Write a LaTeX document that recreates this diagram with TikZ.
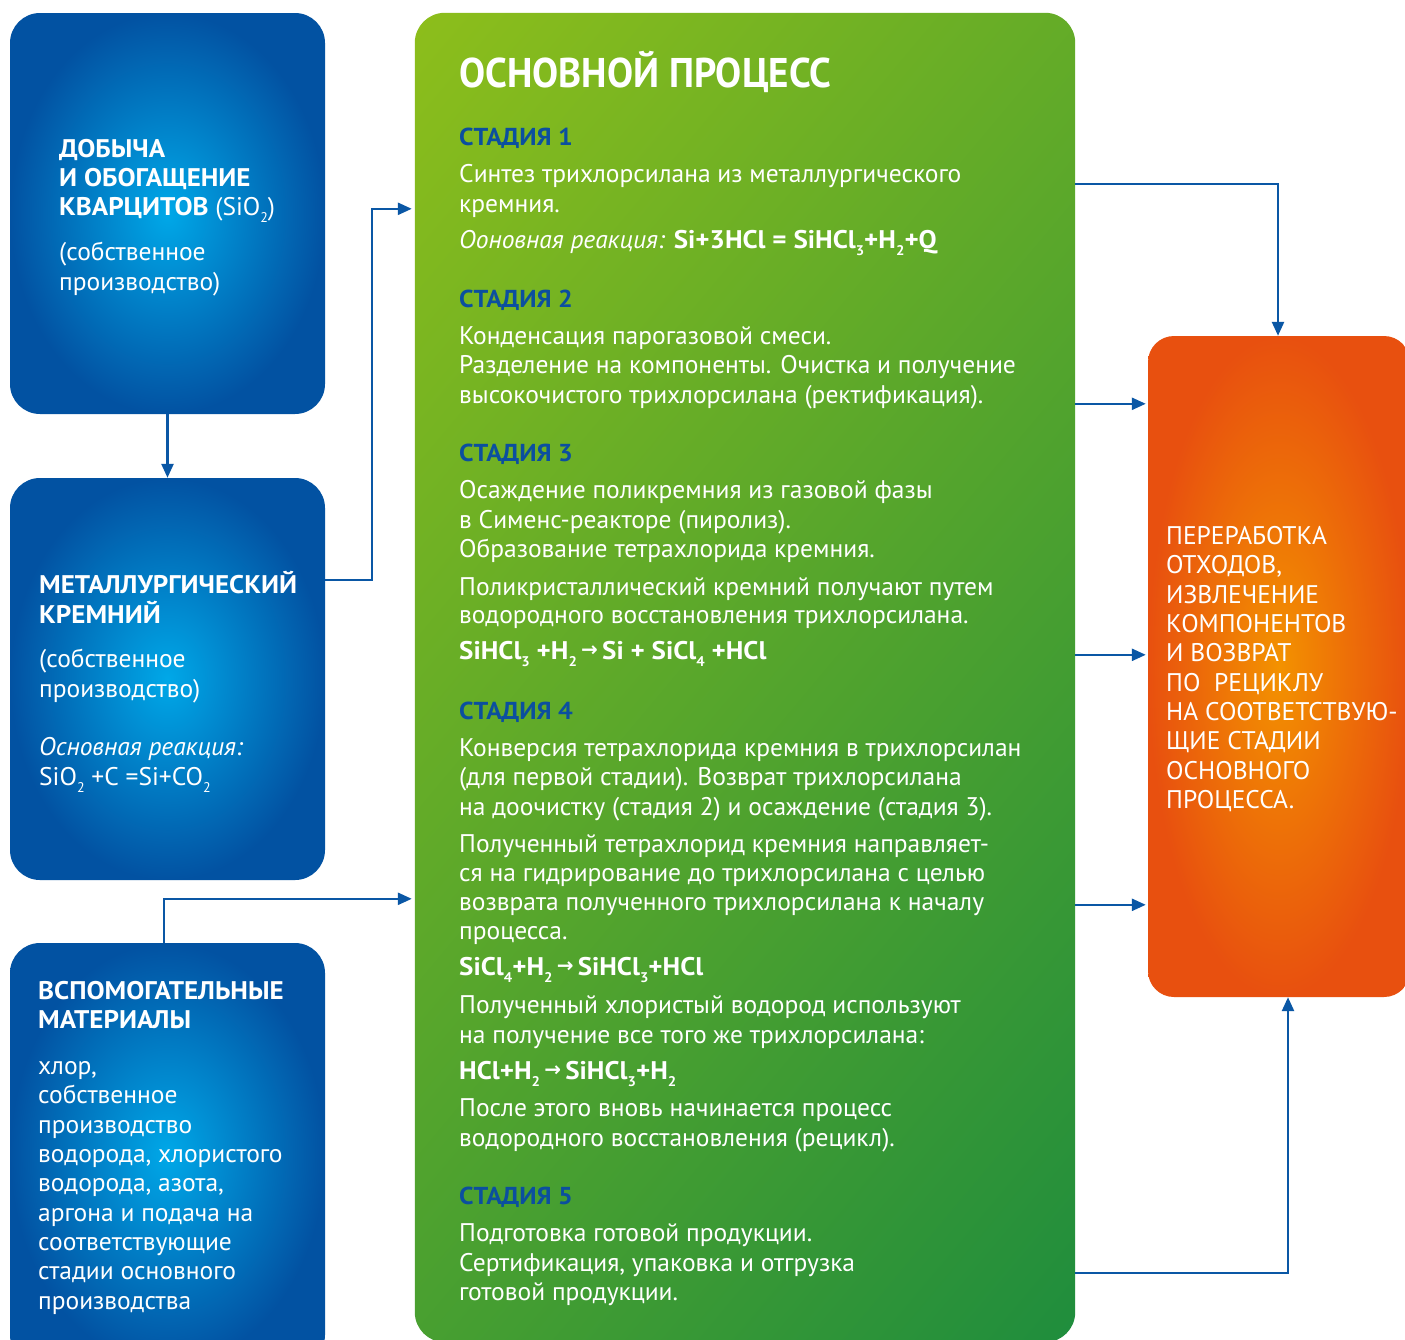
\documentclass[tikz,border=0pt]{standalone}
\usepackage{fontspec}
\setmainfont{PT Sans}[BoldFeatures={FakeStretch=1.06}]
\newfontfamily\titlefont{PT Sans}[FakeStretch=0.94]
\newfontfamily\arrfont{DejaVu Sans}
\usetikzlibrary{arrows.meta}
\definecolor{bluein}{HTML}{00A8E8}
\definecolor{blueout}{HTML}{0252A2}
\definecolor{orin}{HTML}{F39200}
\definecolor{orout}{HTML}{E8500F}
\definecolor{gtl}{HTML}{8DBE1B}
\definecolor{gmid}{HTML}{4FA033}
\definecolor{gbr}{HTML}{1F8D3D}
\definecolor{linecol}{HTML}{0A57A5}
\definecolor{stagecol}{HTML}{0B4F9F}
\newcommand\sbs[1]{\raisebox{-0.3em}{\fontsize{14}{14}\selectfont #1}}
\newcommand\arr{\,{\arrfont\fontsize{20}{20}\selectfont\raisebox{0.12em}{→}}\,}
\tikzset{
  bluebox/.style={shade, rounded corners=30pt, inner color=bluein, outer color=blueout, minimum width=315pt, inner sep=0pt},
  wt/.style={text=white, anchor=base west, inner sep=0pt, font=\fontsize{25.5}{29}\selectfont},
  wtb/.style={wt, font=\fontsize{25.5}{29}\selectfont\bfseries},
  gt/.style={wt},
  gtb/.style={wtb},
  stage/.style={anchor=base west, inner sep=0pt, text=stagecol, font=\fontsize{24.5}{29}\selectfont\bfseries},
  conn/.style={draw=linecol, line width=2.5pt, -{Triangle[length=14pt,width=12pt]}},
}
\begin{document}
\begin{tikzpicture}[x=1pt,y=-1pt]
\useasboundingbox (0,0) rectangle (1405,1339);
\fill[white] (0,0) rectangle (1405,1339);
% boxes
\node[bluebox, minimum height=401pt] (boxA) at (167.5,213.5) {};
\node[bluebox, minimum height=402pt] (boxB) at (167.5,679) {};
\node[bluebox, minimum height=422pt] (boxC) at (167.5,1154) {};
\node[minimum width=660pt, minimum height=1329pt, inner sep=0pt] (green) at (745,677.5) {};
\begin{scope}
  \clip[rounded corners=30pt] (green.north west) rectangle (green.south east);
  \begin{scope}[transform canvas={rotate around={-40:(green.center)}}]
    \shade[left color=gtl, middle color=gmid, right color=gbr] ([xshift=-680pt, yshift=-760pt]green.center) rectangle ([xshift=680pt, yshift=760pt]green.center);
  \end{scope}
\end{scope}
\node[shade, rounded corners=26pt, inner color=orin, outer color=orout, minimum width=262pt, minimum height=661pt, inner sep=0pt] (orange) at (1279,666.5) {};
% connectors
\draw[conn] (boxA.south) -- (boxB.north);
\draw[conn, shorten >=3pt] ([yshift=-102pt]boxB.north east) -- ++(47,0) |- ([yshift=-196pt]green.north west);
\draw[conn, shorten >=3pt] ([xshift=-3.5pt]boxC.north) |- ([yshift=-886pt]green.north west);
\draw[conn] ([yshift=-171pt]green.north east) -| ([xshift=-1pt]orange.north);
\draw[conn, shorten >=2pt] ([yshift=-391pt]green.north east) -- ([yshift=-68pt]orange.north west);
\draw[conn, shorten >=2pt] ([yshift=-642pt]green.north east) -- ([yshift=-319pt]orange.north west);
\draw[conn, shorten >=2pt] ([yshift=-892pt]green.north east) -- ([yshift=-569pt]orange.north west);
\draw[conn] ([yshift=-1260pt]green.north east) -| ([xshift=9pt]orange.south);
% box A text
\node[wtb] (a1) at (59,157) {ДОБЫЧА};
\node[wtb] (a2) at (59,186) {И ОБОГАЩЕНИЕ};
\node[wt] (a3) at (59,215) {\textbf{КВАРЦИТОВ} (SiO\sbs{2})};
\node[wt] (a4) at (59,260) {(собственное};
\node[wt] (a5) at (59,290) {производство)};
% box B text
\node[wtb] (b1) at (39,593) {МЕТАЛЛУРГИЧЕСКИЙ};
\node[wtb] (b2) at (39,623) {КРЕМНИЙ};
\node[wt] (b3) at (39,667) {(собственное};
\node[wt] (b4) at (39,697) {производство)};
\node[wt] (b5) at (39,755) {\itshape Основная реакция:};
\node[wt] (b6) at (39,785) {SiO\sbs{2} +C =Si+CO\sbs{2}};
% box C text
\node[wtb] (c1) at (38,999) {ВСПОМОГАТЕЛЬНЫЕ};
\node[wtb] (c2) at (38,1028) {МАТЕРИАЛЫ};
\node[wt] (c3) at (38,1074) {хлор,};
\node[wt] (c4) at (38,1103) {собственное};
\node[wt] (c5) at (38,1133) {производство};
\node[wt] (c6) at (38,1162) {водорода, хлористого};
\node[wt] (c7) at (38,1191) {водорода, азота,};
\node[wt] (c8) at (38,1221) {аргона и подача на};
\node[wt] (c9) at (38,1250) {соответствующие};
\node[wt] (c10) at (38,1279) {стадии основного};
\node[wt] (c11) at (38,1309) {производства};
% orange text
\node[wt] (o1) at (1166,544) {ПЕРЕРАБОТКА};
\node[wt] (o2) at (1166,573) {ОТХОДОВ,};
\node[wt] (o3) at (1166,603) {ИЗВЛЕЧЕНИЕ};
\node[wt] (o4) at (1166,632) {КОМПОНЕНТОВ};
\node[wt] (o5) at (1166,661) {И ВОЗВРАТ};
\node[wt] (o6) at (1166,691) {ПО\ \ РЕЦИКЛУ};
\node[wt] (o7) at (1166,720) {НА СООТВЕТСТВУЮ-};
\node[wt] (o8) at (1166,749) {ЩИЕ СТАДИИ};
\node[wt] (o9) at (1166,779) {ОСНОВНОГО};
\node[wt] (o10) at (1166,808) {ПРОЦЕССА.};
% green text
\node[wt, font=\fontsize{41.5}{44}\selectfont\titlefont\bfseries] (title) at (459,87) {ОСНОВНОЙ ПРОЦЕСС};
\node[stage] (s1) at (459,145) {СТАДИЯ 1};
\node[gt] (g1) at (459,182) {Синтез трихлорсилана из металлургического};
\node[gt] (g2) at (459,212) {кремния.};
\node[gt] (g3) at (459,248) {\itshape Ооновная реакция: \upshape\bfseries Si+3HCl = SiHCl\sbs{3}+H\sbs{2}+Q};
\node[stage] (s2) at (459,307) {СТАДИЯ 2};
\node[gt] (g4) at (459,344) {Конденсация парогазовой смеси.};
\node[gt] (g5) at (459,373) {Разделение на компоненты. Очистка и получение};
\node[gt] (g6) at (459,403) {высокочистого трихлорсилана (ректификация).};
\node[stage] (s3) at (459,461) {СТАДИЯ 3};
\node[gt] (g7) at (459,498) {Осаждение поликремния из газовой фазы};
\node[gt] (g8) at (459,528) {в Сименс-реакторе (пиролиз).};
\node[gt] (g9) at (459,557) {Образование тетрахлорида кремния.};
\node[gt] (g10) at (459,595) {Поликристаллический кремний получают путем};
\node[gt] (g11) at (459,623) {водородного восстановления трихлорсилана.};
\node[gtb] (f1) at (459,659) {SiHCl\sbs{3} +H\sbs{2}\arr Si + SiCl\sbs{4} +HCl};
\node[stage] (s4) at (459,719) {СТАДИЯ 4};
\node[gt] (g12) at (459,756) {Конверсия тетрахлорида кремния в трихлорсилан};
\node[gt] (g13) at (459,785) {(для первой стадии). Возврат трихлорсилана};
\node[gt] (g14) at (459,815) {на доочистку (стадия 2) и осаждение (стадия 3).};
\node[gt] (g15) at (459,852) {Полученный тетрахлорид кремния направляет-};
\node[gt] (g16) at (459,881) {ся на гидрирование до трихлорсилана с целью};
\node[gt] (g17) at (459,910) {возврата полученного трихлорсилана к началу};
\node[gt] (g18) at (459,939) {процесса.};
\node[gtb] (f2) at (459,975) {SiCl\sbs{4}+H\sbs{2}\arr SiHCl\sbs{3}+HCl};
\node[gt] (g19) at (459,1013) {Полученный хлористый водород используют};
\node[gt] (g20) at (459,1043) {на получение все того же трихлорсилана:};
\node[gtb] (f3) at (459,1079) {HCl+H\sbs{2}\arr SiHCl\sbs{3}+H\sbs{2}};
\node[gt] (g21) at (459,1116) {После этого вновь начинается процесс};
\node[gt] (g22) at (459,1146) {водородного восстановления (рецикл).};
\node[stage] (s5) at (459,1204) {СТАДИЯ 5};
\node[gt] (g23) at (459,1241) {Подготовка готовой продукции.};
\node[gt] (g24) at (459,1271) {Сертификация, упаковка и отгрузка};
\node[gt] (g25) at (459,1300) {готовой продукции.};
\end{tikzpicture}
\end{document}
